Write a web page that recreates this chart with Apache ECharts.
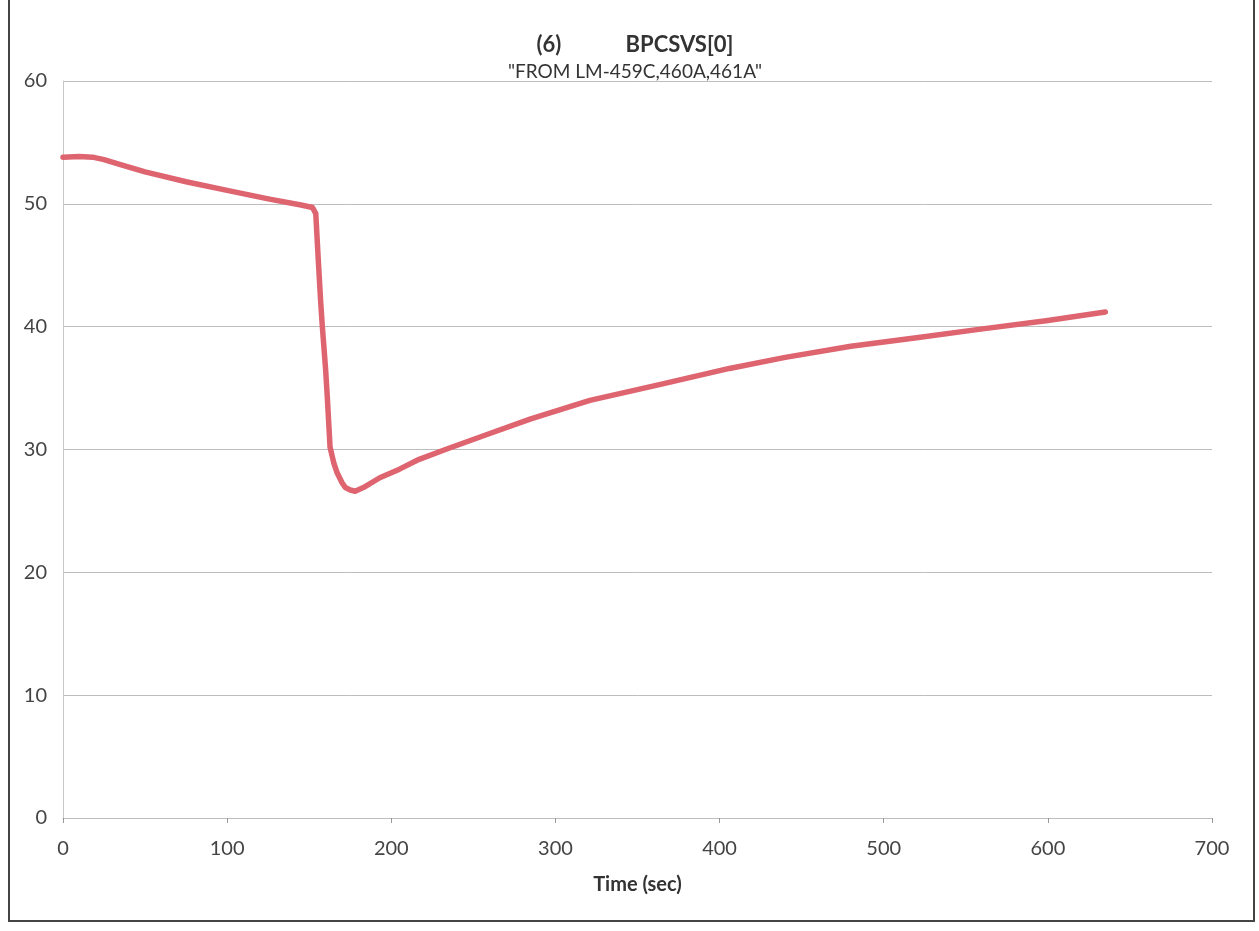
<!DOCTYPE html>
<html>
<head>
<meta charset="utf-8">
<script src="https://cdn.jsdelivr.net/npm/echarts@6/dist/echarts.min.js"></script>
<style>
html,body{margin:0;padding:0;background:#fff;}
#chart{width:1259px;height:931px;}
</style>
</head>
<body>
<div id="chart"></div>
<script>
const titleText = '(6)            BPCSVS[0]';
const subtitleText = '"FROM LM-459C,460A,461A"';
const xAxisName = 'Time (sec)';
const xTicks = [0, 100, 200, 300, 400, 500, 600, 700];
const yTicks = [0, 10, 20, 30, 40, 50, 60];
const times = [0, 10, 18, 25, 35, 50, 75, 100, 125, 145, 152, 154, 155.5, 157, 158, 160, 161, 162.7, 165, 167, 170, 172, 175, 178, 183, 193, 205, 217, 233, 260, 285, 321, 364, 406, 440, 480, 520, 559, 600, 635];
const values = [53.8, 53.85, 53.8, 53.6, 53.2, 52.6, 51.8, 51.1, 50.4, 49.9, 49.7, 49.2, 45.5, 42, 40, 36.5, 34.3, 30.2, 28.9, 28.1, 27.3, 26.9, 26.7, 26.6, 26.9, 27.7, 28.4, 29.2, 30.0, 31.3, 32.5, 34.0, 35.3, 36.6, 37.5, 38.4, 39.1, 39.8, 40.5, 41.2];

const seriesData = times.map((t, i) => [t, values[i]]);
const chart = echarts.init(document.getElementById('chart'));
const fontFam = 'Lato, "Open Sans", sans-serif';
chart.setOption({
  backgroundColor: '#ffffff',
  animation: false,
  title: [
    {text: titleText, left: 630, top: 29, textAlign: 'center',
     textStyle: {fontFamily: fontFam, fontSize: 22, fontWeight: 'bold', color: '#333'}},
    {text: subtitleText, left: 630, top: 57, textAlign: 'center',
     textStyle: {fontFamily: fontFam, fontSize: 19, fontWeight: 'normal', color: '#333'}}
  ],
  grid: {left: 63, right: 47, top: 81, bottom: 113, containLabel: false},
  xAxis: {
    type: 'value', min: xTicks[0], max: xTicks[xTicks.length - 1], interval: 100,
    name: xAxisName, nameLocation: 'middle', nameGap: 57,
    nameTextStyle: {fontFamily: fontFam, fontSize: 20, fontWeight: 'bold', color: '#333'},
    axisLine: {show: true, lineStyle: {color: '#bdbdbd', width: 1}},
    axisTick: {show: true, length: 5, lineStyle: {color: '#999'}},
    axisLabel: {fontFamily: fontFam, fontSize: 20, color: '#444', margin: 21},
    splitLine: {show: false}
  },
  yAxis: {
    type: 'value', min: yTicks[0], max: yTicks[yTicks.length - 1], interval: 10,
    axisLine: {show: true, lineStyle: {color: '#c8c8c8', width: 1}},
    axisTick: {show: false},
    axisLabel: {fontFamily: fontFam, fontSize: 20, color: '#444', margin: 16},
    splitLine: {show: true, lineStyle: {color: '#bdbdbd', width: 1}}
  },
  series: [{
    type: 'line', data: seriesData, showSymbol: false,
    smooth: false,
    lineStyle: {color: '#de6470', width: 5.5, join: 'round', cap: 'round'},
    itemStyle: {color: '#de6470'}
  }],
  graphic: [{
    type: 'rect', silent: true,
    shape: {x: 9, y: -10, width: 1245, height: 931},
    style: {fill: null, stroke: '#444', lineWidth: 2}
  }]
});
</script>
</body>
</html>
